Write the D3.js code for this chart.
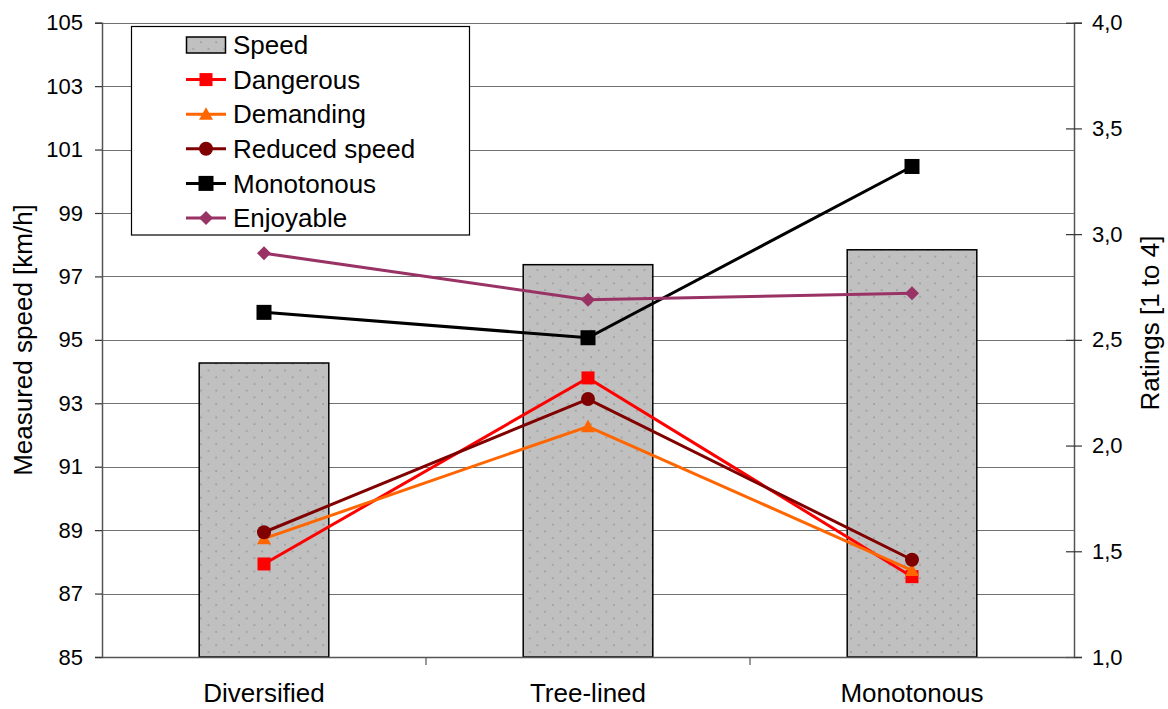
<!DOCTYPE html>
<html>
<head>
<meta charset="utf-8">
<script src="https://cdn.jsdelivr.net/npm/d3@7"></script>
<style>
  body { margin: 0; background: #fff; }
  svg { display: block; font-family: "Liberation Sans", Arial, sans-serif; }
</style>
</head>
<body>
<svg id="chart" width="1168" height="709"></svg>
<script>
const categories = ["Diversified", "Tree-lined", "Monotonous"];
const speed = [94.27, 97.37, 97.84];
const dangerous = [1.44, 2.32, 1.38];
const demanding = [1.56, 2.09, 1.41];
const reducedSpeed = [1.59, 2.22, 1.46];
const monotonous = [2.63, 2.51, 3.32];
const enjoyable = [2.91, 2.69, 2.72];
const leftTicks = [85, 87, 89, 91, 93, 95, 97, 99, 101, 103, 105];
const rightTicks = [1.0, 1.5, 2.0, 2.5, 3.0, 3.5, 4.0];

const series = [
  { name: "Dangerous", values: dangerous, color: "#ff0000", marker: "square", size: 13 },
  { name: "Demanding", values: demanding, color: "#ff6600", marker: "triangle", size: 14 },
  { name: "Reduced speed", values: reducedSpeed, color: "#800000", marker: "circle", size: 14 },
  { name: "Monotonous", values: monotonous, color: "#000000", marker: "square", size: 15 },
  { name: "Enjoyable", values: enjoyable, color: "#993366", marker: "diamond", size: 14 }
];

const svg = d3.select("#chart");
const L = 102, R = 1074, T = 22.7, B = 657;
const FONT = "Liberation Sans, Arial, sans-serif";

const x = d3.scaleBand().domain(categories).range([L, R]).paddingInner(0).paddingOuter(0);
const yL = d3.scaleLinear().domain([85, 105]).range([B, T]);
const yR = d3.scaleLinear().domain([1, 4]).range([B, T]);

// pattern
const defs = svg.append("defs");
const pat = defs.append("pattern").attr("id", "dots").attr("patternUnits", "userSpaceOnUse")
  .attr("width", 15.3).attr("height", 13.4);
pat.append("rect").attr("width", 15.3).attr("height", 13.4).attr("fill", "#c0c0c0");
pat.append("circle").attr("cx", 2).attr("cy", 2).attr("r", 0.8).attr("fill", "#8a8a8a");
pat.append("circle").attr("cx", 9.65).attr("cy", 8.7).attr("r", 0.8).attr("fill", "#8a8a8a");

// gridlines
svg.append("g").selectAll("line").data(leftTicks.slice(1)).join("line")
  .attr("x1", L).attr("x2", R)
  .attr("y1", d => Math.round(yL(d)) + 0.5).attr("y2", d => Math.round(yL(d)) + 0.5)
  .attr("stroke", "#707070").attr("stroke-width", 1.2);

// bars
const bw = x.bandwidth() * 0.4;
svg.append("g").selectAll("rect").data(categories).join("rect")
  .attr("x", (d) => x(d) + x.bandwidth() / 2 - bw / 2)
  .attr("width", bw)
  .attr("y", (d, i) => yL(speed[i]))
  .attr("height", (d, i) => B - yL(speed[i]))
  .attr("fill", "url(#dots)").attr("stroke", "#000").attr("stroke-width", 1.5);

// left axis
const gl = svg.append("g").attr("transform", `translate(${L},0)`)
  .call(d3.axisLeft(yL).tickValues(leftTicks).tickSize(7).tickPadding(12).tickFormat(d3.format("d")));
gl.select(".domain").attr("stroke", "#555").attr("stroke-width", 1.5);
gl.selectAll(".tick line").attr("stroke", "#333").attr("stroke-width", 1.2);
gl.selectAll("text").attr("font-size", 22).attr("fill", "#000").attr("font-family", FONT);

// right axis
const gr = svg.append("g").attr("transform", `translate(${R},0)`)
  .call(d3.axisRight(yR).tickValues(rightTicks).tickSize(8).tickPadding(10)
    .tickFormat(d => d3.format(".1f")(d).replace(".", ",")));
gr.select(".domain").attr("stroke", "#555").attr("stroke-width", 1.5);
gr.selectAll(".tick line").attr("stroke", "#333").attr("stroke-width", 1.2).attr("x1", -8);
gr.selectAll("text").attr("font-size", 22).attr("fill", "#000").attr("font-family", FONT);

// bottom axis
const gb = svg.append("g").attr("transform", `translate(0,${B})`)
  .call(d3.axisBottom(x).tickSize(0));
gb.select(".domain").attr("stroke", "#555").attr("stroke-width", 1.5);
gb.selectAll("text").attr("y", 45).attr("dy", 0)
  .attr("font-size", 26).attr("fill", "#000").attr("font-family", FONT);
svg.append("g").selectAll("line").data([categories[1], categories[2]]).join("line")
  .attr("x1", d => x(d)).attr("x2", d => x(d)).attr("y1", B).attr("y2", B + 8)
  .attr("stroke", "#555").attr("stroke-width", 1.2);

// marker function
function drawMarker(g, type, size, color) {
  const s = size / 2;
  if (type === "square") {
    g.append("rect").attr("x", -s).attr("y", -s).attr("width", size).attr("height", size).attr("fill", color);
  } else if (type === "circle") {
    g.append("circle").attr("r", s).attr("fill", color);
  } else if (type === "triangle") {
    g.append("path").attr("d", `M0,${-s}L${s},${s * 0.8}L${-s},${s * 0.8}Z`).attr("fill", color);
  } else if (type === "diamond") {
    g.append("path").attr("d", `M0,${-s}L${s},0L0,${s}L${-s},0Z`).attr("fill", color);
  }
}

const cx = d => x(d) + x.bandwidth() / 2;
const line = d3.line().x((v, i) => cx(categories[i])).y(v => yR(v));

series.forEach(s => {
  svg.append("path").datum(s.values).attr("d", line)
    .attr("fill", "none").attr("stroke", s.color).attr("stroke-width", 3);
  s.values.forEach((v, i) => {
    const g = svg.append("g").attr("transform", `translate(${cx(categories[i])},${yR(v)})`);
    drawMarker(g, s.marker, s.size, s.color);
  });
});

// legend
const lg = svg.append("g");
lg.append("rect").attr("x", 131.5).attr("y", 26.5).attr("width", 338).attr("height", 208.5)
  .attr("fill", "#fff").attr("stroke", "#000").attr("stroke-width", 1.2);
const rowY = i => 45 + i * 34.6;
// speed entry
lg.append("rect").attr("x", 186.5).attr("y", rowY(0) - 8).attr("width", 39).attr("height", 16)
  .attr("fill", "url(#dots)").attr("stroke", "#000").attr("stroke-width", 1.5);
lg.append("text").attr("x", 233).attr("y", rowY(0)).attr("dy", "0.35em")
  .attr("font-size", 26).text("Speed");
series.forEach((s, k) => {
  const yy = rowY(k + 1);
  lg.append("line").attr("x1", 186).attr("x2", 226).attr("y1", yy).attr("y2", yy)
    .attr("stroke", s.color).attr("stroke-width", 3);
  const g = lg.append("g").attr("transform", `translate(206,${yy})`);
  drawMarker(g, s.marker, s.size, s.color);
  lg.append("text").attr("x", 233).attr("y", yy).attr("dy", "0.35em")
    .attr("font-size", 26).text(s.name);
});

// axis titles
svg.append("text").attr("transform", `translate(32,340) rotate(-90)`)
  .attr("text-anchor", "middle").attr("font-size", 26).text("Measured speed [km/h]");
svg.append("text").attr("transform", `translate(1159,323) rotate(-90)`)
  .attr("text-anchor", "middle").attr("font-size", 26).text("Ratings [1 to 4]");
</script>
</body>
</html>
